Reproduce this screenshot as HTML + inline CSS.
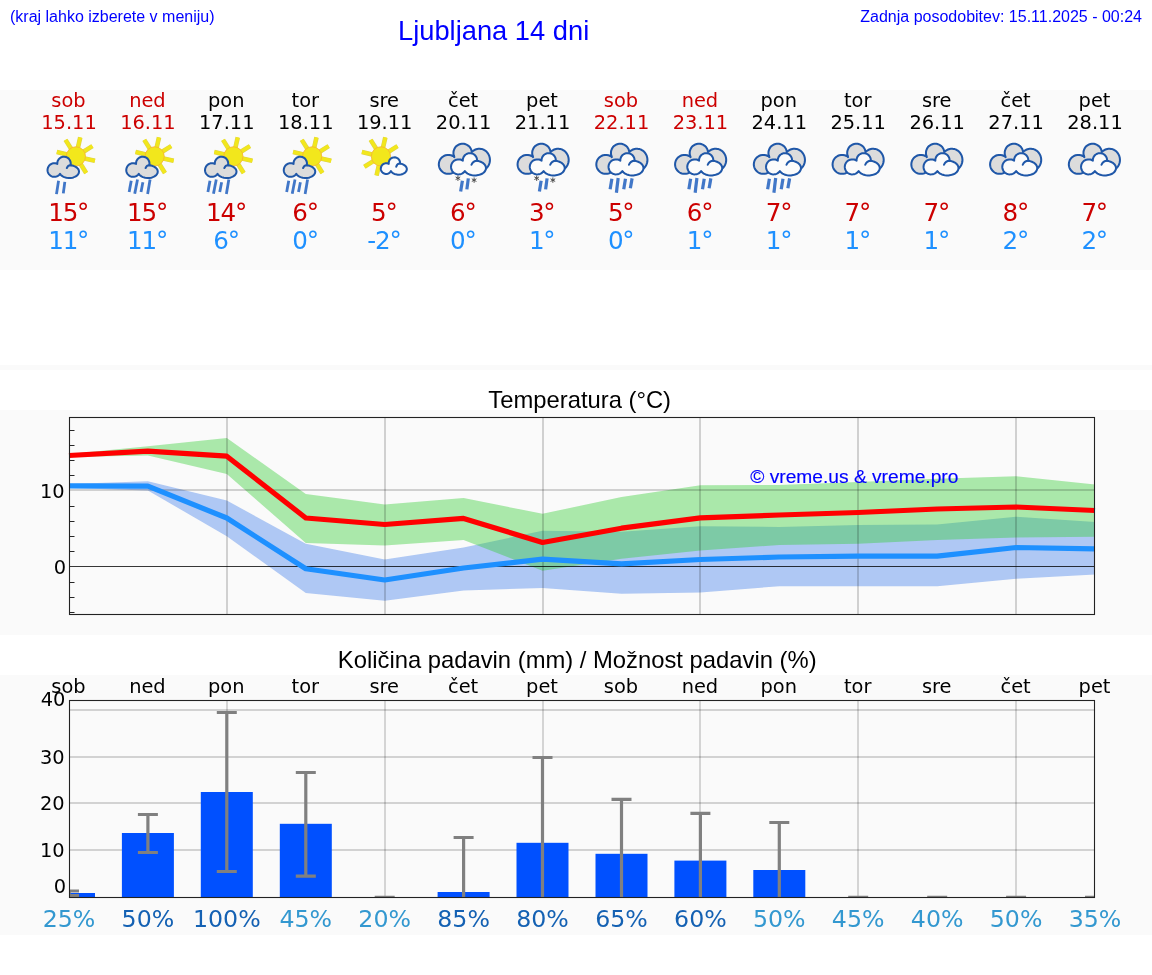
<!DOCTYPE html>
<html lang="sl"><head><meta charset="utf-8"><title>Ljubljana 14 dni</title>
<style>
html,body{margin:0;padding:0;background:#fff}
body{width:1152px;height:975px;position:relative;overflow:hidden;font-family:"Liberation Sans",Arial,sans-serif;color:#000}
.abs{position:absolute;white-space:nowrap}
.hdr{color:#0000ff;font-size:16px;line-height:18px}
.title{color:#0000ff;font-size:27.3px;line-height:30px}
.band{position:absolute;left:0;width:1152px;background:#fafafa}
.dv{font-family:"DejaVu Sans","Liberation Sans",sans-serif}
.col{position:absolute;width:80px;text-align:center;white-space:nowrap}
.day{font-size:19.4px;line-height:22px}
.hi{font-size:24.6px;line-height:28px;letter-spacing:-1.2px;color:#cc0000}
.lo{font-size:24.6px;line-height:28px;letter-spacing:-1.2px;color:#1e90ff}
.we{color:#cc0000}
.ctitle{font-size:23.8px;line-height:26px;color:#000}
svg{position:absolute;left:0;top:0;overflow:visible}
svg text{font-family:"DejaVu Sans","Liberation Sans",sans-serif}

</style></head><body>
<div class="abs hdr" style="left:10px;top:8px">(kraj lahko izberete v meniju)</div>
<div class="abs title" style="left:398px;top:15.5px">Ljubljana 14 dni</div>
<div class="abs hdr" style="right:10px;top:8px">Zadnja posodobitev: 15.11.2025 - 00:24</div>
<div class="band" style="top:90px;height:180px"></div>
<div class="band" style="top:365px;height:5px"></div>
<div class="band" style="top:410px;height:225px"></div>
<div class="band" style="top:675px;height:260px"></div>
<div class="col dv day we" style="left:28.5px;top:90px">sob</div>
<div class="col dv day we" style="left:29.0px;top:112px">15.11</div>
<div class="col dv hi" style="left:28.2px;top:198.6px">15°</div>
<div class="col dv lo" style="left:28.2px;top:227.4px">11°</div>
<div class="col dv day we" style="left:107.4px;top:90px">ned</div>
<div class="col dv day we" style="left:107.9px;top:112px">16.11</div>
<div class="col dv hi" style="left:107.1px;top:198.6px">15°</div>
<div class="col dv lo" style="left:107.1px;top:227.4px">11°</div>
<div class="col dv day" style="left:186.3px;top:90px">pon</div>
<div class="col dv day" style="left:186.8px;top:112px">17.11</div>
<div class="col dv hi" style="left:186.0px;top:198.6px">14°</div>
<div class="col dv lo" style="left:186.0px;top:227.4px">6°</div>
<div class="col dv day" style="left:265.3px;top:90px">tor</div>
<div class="col dv day" style="left:265.8px;top:112px">18.11</div>
<div class="col dv hi" style="left:265.0px;top:198.6px">6°</div>
<div class="col dv lo" style="left:265.0px;top:227.4px">0°</div>
<div class="col dv day" style="left:344.2px;top:90px">sre</div>
<div class="col dv day" style="left:344.7px;top:112px">19.11</div>
<div class="col dv hi" style="left:343.9px;top:198.6px">5°</div>
<div class="col dv lo" style="left:343.9px;top:227.4px">-2°</div>
<div class="col dv day" style="left:423.1px;top:90px">čet</div>
<div class="col dv day" style="left:423.6px;top:112px">20.11</div>
<div class="col dv hi" style="left:422.8px;top:198.6px">6°</div>
<div class="col dv lo" style="left:422.8px;top:227.4px">0°</div>
<div class="col dv day" style="left:502.0px;top:90px">pet</div>
<div class="col dv day" style="left:502.5px;top:112px">21.11</div>
<div class="col dv hi" style="left:501.7px;top:198.6px">3°</div>
<div class="col dv lo" style="left:501.7px;top:227.4px">1°</div>
<div class="col dv day we" style="left:581.0px;top:90px">sob</div>
<div class="col dv day we" style="left:581.5px;top:112px">22.11</div>
<div class="col dv hi" style="left:580.7px;top:198.6px">5°</div>
<div class="col dv lo" style="left:580.7px;top:227.4px">0°</div>
<div class="col dv day we" style="left:659.9px;top:90px">ned</div>
<div class="col dv day we" style="left:660.4px;top:112px">23.11</div>
<div class="col dv hi" style="left:659.6px;top:198.6px">6°</div>
<div class="col dv lo" style="left:659.6px;top:227.4px">1°</div>
<div class="col dv day" style="left:738.8px;top:90px">pon</div>
<div class="col dv day" style="left:739.3px;top:112px">24.11</div>
<div class="col dv hi" style="left:738.5px;top:198.6px">7°</div>
<div class="col dv lo" style="left:738.5px;top:227.4px">1°</div>
<div class="col dv day" style="left:817.7px;top:90px">tor</div>
<div class="col dv day" style="left:818.2px;top:112px">25.11</div>
<div class="col dv hi" style="left:817.4px;top:198.6px">7°</div>
<div class="col dv lo" style="left:817.4px;top:227.4px">1°</div>
<div class="col dv day" style="left:896.7px;top:90px">sre</div>
<div class="col dv day" style="left:897.2px;top:112px">26.11</div>
<div class="col dv hi" style="left:896.4px;top:198.6px">7°</div>
<div class="col dv lo" style="left:896.4px;top:227.4px">1°</div>
<div class="col dv day" style="left:975.6px;top:90px">čet</div>
<div class="col dv day" style="left:976.1px;top:112px">27.11</div>
<div class="col dv hi" style="left:975.3px;top:198.6px">8°</div>
<div class="col dv lo" style="left:975.3px;top:227.4px">2°</div>
<div class="col dv day" style="left:1054.5px;top:90px">pet</div>
<div class="col dv day" style="left:1055.0px;top:112px">28.11</div>
<div class="col dv hi" style="left:1054.2px;top:198.6px">7°</div>
<div class="col dv lo" style="left:1054.2px;top:227.4px">2°</div>
<div class="abs ctitle" style="left:488.3px;top:387px">Temperatura (°C)</div>
<div class="abs ctitle" style="left:337.8px;top:647px">Količina padavin (mm) / Možnost padavin (%)</div>
<svg width="1152" height="975" viewBox="0 0 1152 975">
<defs>
<g id="sc_r2" transform="translate(3.0,0) scale(0.06977)"><g stroke="#dcd24a" stroke-width="66"><line x1="695" y1="379" x2="843" y2="413"/><line x1="679" y1="282" x2="807" y2="202"/><line x1="599" y1="225" x2="633" y2="77"/><line x1="502" y1="241" x2="422" y2="113"/><line x1="445" y1="321" x2="297" y2="287"/><line x1="638" y1="459" x2="718" y2="587"/></g><g stroke="#f2e71c" stroke-width="50"><line x1="695" y1="379" x2="843" y2="413"/><line x1="679" y1="282" x2="807" y2="202"/><line x1="599" y1="225" x2="633" y2="77"/><line x1="502" y1="241" x2="422" y2="113"/><line x1="445" y1="321" x2="297" y2="287"/><line x1="638" y1="459" x2="718" y2="587"/></g><circle cx="570" cy="350" r="138" fill="#f2e71c" stroke="#f5b233" stroke-width="12"/><path d="M496 445L492 422L482 401L468 382L449 368L428 358L405 354L381 356L363 361L351 368L339 376L326 389L318 401L311 413L307 427L304 441L304 457L290 451L276 448L262 447L243 449L229 453L216 459L200 469L189 479L181 491L176 499L170 512L166 526L164 540L164 555L167 569L171 583L178 595L186 607L193 614L204 624L212 629L224 636L238 640L248 642L262 643L276 642L290 639L300 636L312 629L324 621L335 611L343 599L352 611L359 619L367 626L381 636L403 647L434 656L468 660L496 659L522 655L535 651L553 644L569 636L583 626L595 615L604 603L611 590L614 577L615 563L612 550L607 537L598 525L583 510L569 500L553 492L535 485L516 480L492 477L496 459Z" fill="#dcdcdc" stroke="#1f57a8" stroke-width="29" stroke-linejoin="round"/><path d="M500 478C478 476 450 492 440 517" fill="none" stroke="#1f57a8" stroke-width="29" stroke-linecap="round"/><g stroke="#4177c8" stroke-width="40"><line x1="322" y1="700" x2="292" y2="890"/><line x1="412" y1="715" x2="390" y2="880"/></g></g>
<g id="sc_r4" transform="translate(3.0,0) scale(0.06977)"><g stroke="#dcd24a" stroke-width="66"><line x1="695" y1="379" x2="843" y2="413"/><line x1="679" y1="282" x2="807" y2="202"/><line x1="599" y1="225" x2="633" y2="77"/><line x1="502" y1="241" x2="422" y2="113"/><line x1="445" y1="321" x2="297" y2="287"/><line x1="638" y1="459" x2="718" y2="587"/></g><g stroke="#f2e71c" stroke-width="50"><line x1="695" y1="379" x2="843" y2="413"/><line x1="679" y1="282" x2="807" y2="202"/><line x1="599" y1="225" x2="633" y2="77"/><line x1="502" y1="241" x2="422" y2="113"/><line x1="445" y1="321" x2="297" y2="287"/><line x1="638" y1="459" x2="718" y2="587"/></g><circle cx="570" cy="350" r="138" fill="#f2e71c" stroke="#f5b233" stroke-width="12"/><path d="M496 445L492 422L482 401L468 382L449 368L428 358L405 354L381 356L363 361L351 368L339 376L326 389L318 401L311 413L307 427L304 441L304 457L290 451L276 448L262 447L243 449L229 453L216 459L200 469L189 479L181 491L176 499L170 512L166 526L164 540L164 555L167 569L171 583L178 595L186 607L193 614L204 624L212 629L224 636L238 640L248 642L262 643L276 642L290 639L300 636L312 629L324 621L335 611L343 599L352 611L359 619L367 626L381 636L403 647L434 656L468 660L496 659L522 655L535 651L553 644L569 636L583 626L595 615L604 603L611 590L614 577L615 563L612 550L607 537L598 525L583 510L569 500L553 492L535 485L516 480L492 477L496 459Z" fill="#dcdcdc" stroke="#1f57a8" stroke-width="29" stroke-linejoin="round"/><path d="M500 478C478 476 450 492 440 517" fill="none" stroke="#1f57a8" stroke-width="29" stroke-linecap="round"/><g stroke="#4177c8" stroke-width="40"><line x1="235" y1="700" x2="205" y2="860"/><line x1="325" y1="680" x2="285" y2="885"/><line x1="402" y1="720" x2="375" y2="860"/><line x1="505" y1="680" x2="470" y2="890"/></g></g>
<g id="sun_c" transform="translate(3.3,0) scale(0.06977)"><g stroke="#dcd24a" stroke-width="66"><line x1="524" y1="282" x2="652" y2="202"/><line x1="444" y1="225" x2="478" y2="77"/><line x1="347" y1="241" x2="267" y2="113"/><line x1="290" y1="321" x2="142" y2="287"/><line x1="306" y1="418" x2="178" y2="498"/><line x1="386" y1="475" x2="352" y2="623"/></g><g stroke="#f2e71c" stroke-width="50"><line x1="524" y1="282" x2="652" y2="202"/><line x1="444" y1="225" x2="478" y2="77"/><line x1="347" y1="241" x2="267" y2="113"/><line x1="290" y1="321" x2="142" y2="287"/><line x1="306" y1="418" x2="178" y2="498"/><line x1="386" y1="475" x2="352" y2="623"/></g><circle cx="415" cy="350" r="138" fill="#f2e71c" stroke="#f5b233" stroke-width="12"/><path d="M690 441L686 421L680 406L669 390L654 377L636 368L616 363L596 364L577 369L562 377L553 384L542 396L536 406L530 421L527 433L526 445L527 457L516 453L501 449L486 448L475 449L464 453L450 459L438 468L430 476L424 485L419 496L414 514L413 525L414 536L419 554L428 571L436 579L444 587L461 596L479 601L490 602L501 601L512 599L526 593L536 587L544 579L552 571L558 561L570 576L585 589L607 601L628 607L656 612L680 612L702 609L729 601L743 594L755 586L766 576L775 566L781 555L785 544L786 532L785 520L781 509L775 498L769 491L759 481L743 470L729 463L708 457L690 453Z" fill="#fbfbfb" stroke="#1f57a8" stroke-width="29" stroke-linejoin="round"/><path d="M690 453C668 452 642 468 634 497" fill="none" stroke="#1f57a8" stroke-width="29" stroke-linecap="round"/></g>
<g id="cl" transform="translate(0.45,0) scale(0.06977)"><path d="M626 288L623 268L617 249L611 238L601 221L593 211L579 198L563 187L551 181L527 172L514 169L495 168L482 169L463 172L444 178L433 184L411 198L393 216L379 238L369 262L364 287L364 313L369 338L377 360L366 351L354 344L329 334L303 329L277 329L251 334L226 344L204 359L189 373L181 383L170 400L162 418L157 437L155 451L154 471L157 491L162 510L170 528L181 545L194 560L209 573L220 581L232 587L251 594L270 599L290 600L310 599L329 594L342 590L360 581L371 573L386 560L399 545L410 529L424 543L438 553L454 561L471 566L488 569L506 570L523 568L540 563L562 553L576 543L585 535L600 517L606 507L612 494L622 507L633 519L644 529L657 537L670 545L684 551L698 555L713 558L728 560L750 559L765 557L779 553L793 548L807 541L819 533L831 524L842 513L852 502L861 489L869 475L875 461L880 446L884 431L886 416L887 400L885 377L882 361L878 346L872 332L865 318L857 305L848 293L837 281L826 271L813 263L800 255L786 249L772 245L757 242L742 240L720 241L705 243L691 247L670 255L657 263L639 276Z" fill="#dcdcdc" stroke="#1f57a8" stroke-width="29" stroke-linejoin="round"/><path d="M702 400L700 385L698 375L690 357L685 348L676 337L665 326L657 320L639 311L630 307L615 304L600 303L590 303L575 306L566 309L552 315L535 326L524 337L515 348L506 366L501 380L498 395L498 411L483 402L463 395L448 393L426 393L406 397L391 402L377 410L361 424L350 436L342 449L335 464L331 479L329 495L330 511L331 521L335 536L342 551L350 564L357 573L368 583L377 590L391 598L406 603L416 606L432 608L448 607L463 605L478 600L493 593L506 583L517 573L527 559L536 571L545 580L566 596L591 608L619 617L634 620L657 622L687 622L718 618L746 610L766 602L784 592L799 580L815 562L823 548L828 533L830 517L828 501L823 486L815 472L808 463L794 450L778 438L753 426L725 417L702 413Z" fill="#fbfbfb" stroke="#1f57a8" stroke-width="29" stroke-linejoin="round"/><path d="M705 411C675 412 635 432 622 470" fill="none" stroke="#1f57a8" stroke-width="29" stroke-linecap="round"/></g>
<g id="cl_r4" transform="translate(0.45,0) scale(0.06977)"><path d="M626 288L623 268L617 249L611 238L601 221L593 211L579 198L563 187L551 181L527 172L514 169L495 168L482 169L463 172L444 178L433 184L411 198L393 216L379 238L369 262L364 287L364 313L369 338L377 360L366 351L354 344L329 334L303 329L277 329L251 334L226 344L204 359L189 373L181 383L170 400L162 418L157 437L155 451L154 471L157 491L162 510L170 528L181 545L194 560L209 573L220 581L232 587L251 594L270 599L290 600L310 599L329 594L342 590L360 581L371 573L386 560L399 545L410 529L424 543L438 553L454 561L471 566L488 569L506 570L523 568L540 563L562 553L576 543L585 535L600 517L606 507L612 494L622 507L633 519L644 529L657 537L670 545L684 551L698 555L713 558L728 560L750 559L765 557L779 553L793 548L807 541L819 533L831 524L842 513L852 502L861 489L869 475L875 461L880 446L884 431L886 416L887 400L885 377L882 361L878 346L872 332L865 318L857 305L848 293L837 281L826 271L813 263L800 255L786 249L772 245L757 242L742 240L720 241L705 243L691 247L670 255L657 263L639 276Z" fill="#dcdcdc" stroke="#1f57a8" stroke-width="29" stroke-linejoin="round"/><path d="M702 400L700 385L698 375L690 357L685 348L676 337L665 326L657 320L639 311L630 307L615 304L600 303L590 303L575 306L566 309L552 315L535 326L524 337L515 348L506 366L501 380L498 395L498 411L483 402L463 395L448 393L426 393L406 397L391 402L377 410L361 424L350 436L342 449L335 464L331 479L329 495L330 511L331 521L335 536L342 551L350 564L357 573L368 583L377 590L391 598L406 603L416 606L432 608L448 607L463 605L478 600L493 593L506 583L517 573L527 559L536 571L545 580L566 596L591 608L619 617L634 620L657 622L687 622L718 618L746 610L766 602L784 592L799 580L815 562L823 548L828 533L830 517L828 501L823 486L815 472L808 463L794 450L778 438L753 426L725 417L702 413Z" fill="#fbfbfb" stroke="#1f57a8" stroke-width="29" stroke-linejoin="round"/><path d="M705 411C675 412 635 432 622 470" fill="none" stroke="#1f57a8" stroke-width="29" stroke-linecap="round"/><g stroke="#4177c8" stroke-width="46"><line x1="377" y1="670" x2="352" y2="820"/><line x1="467" y1="660" x2="442" y2="870"/><line x1="572" y1="670" x2="547" y2="820"/><line x1="667" y1="665" x2="642" y2="805"/></g></g>
<g id="cl_sleet" transform="translate(0.45,0) scale(0.06977)"><path d="M626 288L623 268L617 249L611 238L601 221L593 211L579 198L563 187L551 181L527 172L514 169L495 168L482 169L463 172L444 178L433 184L411 198L393 216L379 238L369 262L364 287L364 313L369 338L377 360L366 351L354 344L329 334L303 329L277 329L251 334L226 344L204 359L189 373L181 383L170 400L162 418L157 437L155 451L154 471L157 491L162 510L170 528L181 545L194 560L209 573L220 581L232 587L251 594L270 599L290 600L310 599L329 594L342 590L360 581L371 573L386 560L399 545L410 529L424 543L438 553L454 561L471 566L488 569L506 570L523 568L540 563L562 553L576 543L585 535L600 517L606 507L612 494L622 507L633 519L644 529L657 537L670 545L684 551L698 555L713 558L728 560L750 559L765 557L779 553L793 548L807 541L819 533L831 524L842 513L852 502L861 489L869 475L875 461L880 446L884 431L886 416L887 400L885 377L882 361L878 346L872 332L865 318L857 305L848 293L837 281L826 271L813 263L800 255L786 249L772 245L757 242L742 240L720 241L705 243L691 247L670 255L657 263L639 276Z" fill="#dcdcdc" stroke="#1f57a8" stroke-width="29" stroke-linejoin="round"/><path d="M702 400L700 385L698 375L690 357L685 348L676 337L665 326L657 320L639 311L630 307L615 304L600 303L590 303L575 306L566 309L552 315L535 326L524 337L515 348L506 366L501 380L498 395L498 411L483 402L463 395L448 393L426 393L406 397L391 402L377 410L361 424L350 436L342 449L335 464L331 479L329 495L330 511L331 521L335 536L342 551L350 564L357 573L368 583L377 590L391 598L406 603L416 606L432 608L448 607L463 605L478 600L493 593L506 583L517 573L527 559L536 571L545 580L566 596L591 608L619 617L634 620L657 622L687 622L718 618L746 610L766 602L784 592L799 580L815 562L823 548L828 533L830 517L828 501L823 486L815 472L808 463L794 450L778 438L753 426L725 417L702 413Z" fill="#fbfbfb" stroke="#1f57a8" stroke-width="29" stroke-linejoin="round"/><path d="M705 411C675 412 635 432 622 470" fill="none" stroke="#1f57a8" stroke-width="29" stroke-linecap="round"/><g stroke="#4177c8" stroke-width="46"><line x1="492" y1="700" x2="467" y2="852"/><line x1="577" y1="665" x2="556" y2="822"/></g><g stroke="#4a4a4a" stroke-width="14"><line x1="428" y1="625" x2="428" y2="701"/><line x1="395" y1="644" x2="461" y2="682"/><line x1="395" y1="682" x2="461" y2="644"/></g><g stroke="#4a4a4a" stroke-width="14"><line x1="660" y1="652" x2="660" y2="728"/><line x1="627" y1="671" x2="693" y2="709"/><line x1="627" y1="709" x2="693" y2="671"/></g></g>
</defs>
<use href="#sc_r2" x="33.09" y="132"/>
<use href="#sc_r4" x="111.84" y="132"/>
<use href="#sc_r4" x="190.59" y="132"/>
<use href="#sc_r4" x="269.34" y="132"/>
<use href="#sun_c" x="348.69" y="132"/>
<use href="#cl_sleet" x="427.62" y="132"/>
<use href="#cl_sleet" x="506.37" y="132"/>
<use href="#cl_r4" x="585.12" y="132"/>
<use href="#cl_r4" x="663.87" y="132"/>
<use href="#cl_r4" x="742.63" y="132"/>
<use href="#cl" x="821.38" y="132"/>
<use href="#cl" x="900.13" y="132"/>
<use href="#cl" x="978.89" y="132"/>
<use href="#cl" x="1057.64" y="132"/>
<g id="tempchart">
<polygon points="69.0,484.0 147.9,481.2 226.8,500.5 305.8,543.8 384.7,559.5 463.6,547.5 542.5,530.8 621.5,531.8 700.4,526.2 779.3,527.0 858.2,525.0 937.2,524.4 1016.1,516.8 1095.0,522.0 1095.0,574.5 1016.1,578.8 937.2,586.2 858.2,586.2 779.3,586.2 700.4,592.5 621.5,593.8 542.5,588.0 463.6,590.5 384.7,600.8 305.8,593.0 226.8,536.2 147.9,490.5 69.0,488.0" fill="#6495ed" fill-opacity="0.5"/>
<polygon points="69.0,454.0 147.9,446.2 226.8,438.0 305.8,494.0 384.7,504.5 463.6,498.0 542.5,513.8 621.5,497.0 700.4,485.3 779.3,485.0 858.2,482.0 937.2,478.8 1016.1,476.2 1095.0,484.5 1095.0,536.8 1016.1,537.5 937.2,540.0 858.2,543.8 779.3,545.0 700.4,550.5 621.5,558.8 542.5,570.8 463.6,540.0 384.7,545.5 305.8,543.0 226.8,474.0 147.9,455.5 69.0,457.0" fill="#32cd32" fill-opacity="0.4"/>
<line x1="227" y1="417.5" x2="227" y2="614.5" stroke="#000" stroke-opacity="0.165" stroke-width="2"/>
<line x1="385" y1="417.5" x2="385" y2="614.5" stroke="#000" stroke-opacity="0.165" stroke-width="2"/>
<line x1="543" y1="417.5" x2="543" y2="614.5" stroke="#000" stroke-opacity="0.165" stroke-width="2"/>
<line x1="700" y1="417.5" x2="700" y2="614.5" stroke="#000" stroke-opacity="0.165" stroke-width="2"/>
<line x1="858" y1="417.5" x2="858" y2="614.5" stroke="#000" stroke-opacity="0.165" stroke-width="2"/>
<line x1="1016" y1="417.5" x2="1016" y2="614.5" stroke="#000" stroke-opacity="0.165" stroke-width="2"/>
<line x1="69.0" y1="490" x2="1095.0" y2="490" stroke="#000" stroke-opacity="0.165" stroke-width="2"/>
<line x1="69.0" y1="566.5" x2="1095.0" y2="566.5" stroke="#000" stroke-opacity="0.78" stroke-width="1"/>
<polyline points="69.0,455.5 147.9,451.2 226.8,456.2 305.8,518.0 384.7,524.5 463.6,518.4 542.5,542.5 621.5,528.2 700.4,517.8 779.3,515.0 858.2,512.5 937.2,509.0 1016.1,507.0 1095.0,510.5" fill="none" stroke="#ff0000" stroke-width="5.2" stroke-linejoin="round"/>
<polyline points="69.0,485.8 147.9,486.2 226.8,518.0 305.8,568.8 384.7,580.0 463.6,568.0 542.5,559.2 621.5,563.8 700.4,559.5 779.3,557.0 858.2,556.2 937.2,556.2 1016.1,547.5 1095.0,548.8" fill="none" stroke="#1e90ff" stroke-width="5.2" stroke-linejoin="round"/>
<line x1="69.0" y1="612.50" x2="74.5" y2="612.50" stroke="#000" stroke-width="1" stroke-opacity="0.85"/>
<line x1="69.0" y1="597.50" x2="74.5" y2="597.50" stroke="#000" stroke-width="1" stroke-opacity="0.85"/>
<line x1="69.0" y1="582.50" x2="74.5" y2="582.50" stroke="#000" stroke-width="1" stroke-opacity="0.85"/>
<line x1="69.0" y1="551.50" x2="74.5" y2="551.50" stroke="#000" stroke-width="1" stroke-opacity="0.85"/>
<line x1="69.0" y1="536.50" x2="74.5" y2="536.50" stroke="#000" stroke-width="1" stroke-opacity="0.85"/>
<line x1="69.0" y1="521.50" x2="74.5" y2="521.50" stroke="#000" stroke-width="1" stroke-opacity="0.85"/>
<line x1="69.0" y1="506.50" x2="74.5" y2="506.50" stroke="#000" stroke-width="1" stroke-opacity="0.85"/>
<line x1="69.0" y1="475.50" x2="74.5" y2="475.50" stroke="#000" stroke-width="1" stroke-opacity="0.85"/>
<line x1="69.0" y1="460.50" x2="74.5" y2="460.50" stroke="#000" stroke-width="1" stroke-opacity="0.85"/>
<line x1="69.0" y1="445.50" x2="74.5" y2="445.50" stroke="#000" stroke-width="1" stroke-opacity="0.85"/>
<line x1="69.0" y1="430.50" x2="74.5" y2="430.50" stroke="#000" stroke-width="1" stroke-opacity="0.85"/>
<rect x="69.5" y="417.5" width="1025.0" height="197.0" fill="none" stroke="#222" stroke-width="1.1"/>
<text x="64.7" y="497.9" text-anchor="end" font-size="19.4">10</text>
<text x="66" y="573.8" text-anchor="end" font-size="19.4">0</text>
<text x="750.2" y="482.9" font-size="19.2" fill="#0000ff" stroke="#0000ff" stroke-width="0.15" style="font-family:'Liberation Sans',Arial,sans-serif">© vreme.us &amp; vreme.pro</text>
</g>
<g id="precchart">
<line x1="69.0" y1="710" x2="1095.0" y2="710" stroke="#000" stroke-opacity="0.155" stroke-width="2"/>
<line x1="69.0" y1="757" x2="1095.0" y2="757" stroke="#000" stroke-opacity="0.155" stroke-width="2"/>
<line x1="69.0" y1="803" x2="1095.0" y2="803" stroke="#000" stroke-opacity="0.155" stroke-width="2"/>
<line x1="69.0" y1="850" x2="1095.0" y2="850" stroke="#000" stroke-opacity="0.155" stroke-width="2"/>
<line x1="227" y1="700.5" x2="227" y2="897.5" stroke="#000" stroke-opacity="0.15" stroke-width="2"/>
<line x1="385" y1="700.5" x2="385" y2="897.5" stroke="#000" stroke-opacity="0.15" stroke-width="2"/>
<line x1="543" y1="700.5" x2="543" y2="897.5" stroke="#000" stroke-opacity="0.15" stroke-width="2"/>
<line x1="700" y1="700.5" x2="700" y2="897.5" stroke="#000" stroke-opacity="0.15" stroke-width="2"/>
<line x1="858" y1="700.5" x2="858" y2="897.5" stroke="#000" stroke-opacity="0.15" stroke-width="2"/>
<line x1="1016" y1="700.5" x2="1016" y2="897.5" stroke="#000" stroke-opacity="0.15" stroke-width="2"/>
<clipPath id="pc"><rect x="69.5" y="700.5" width="1025.5" height="197.0"/></clipPath>
<g clip-path="url(#pc)">
<rect x="43.0" y="893.0" width="52" height="4.5" fill="#0050ff"/>
<rect x="121.9" y="833.0" width="52" height="64.5" fill="#0050ff"/>
<rect x="200.8" y="792.0" width="52" height="105.5" fill="#0050ff"/>
<rect x="279.8" y="823.8" width="52" height="73.8" fill="#0050ff"/>
<rect x="437.6" y="892.0" width="52" height="5.5" fill="#0050ff"/>
<rect x="516.5" y="842.8" width="52" height="54.7" fill="#0050ff"/>
<rect x="595.5" y="853.8" width="52" height="43.8" fill="#0050ff"/>
<rect x="674.4" y="860.6" width="52" height="36.9" fill="#0050ff"/>
<rect x="753.3" y="870.0" width="52" height="27.5" fill="#0050ff"/>
<path d="M69.0 891.0V895.5M59.0 891.0h20M59.0 895.5h20" stroke="#808080" stroke-width="3.2" fill="none"/>
<path d="M147.9 814.5V852.5M137.9 814.5h20M137.9 852.5h20" stroke="#808080" stroke-width="3.2" fill="none"/>
<path d="M226.8 712.5V871.5M216.8 712.5h20M216.8 871.5h20" stroke="#808080" stroke-width="3.2" fill="none"/>
<path d="M305.8 772.5V876.2M295.8 772.5h20M295.8 876.2h20" stroke="#808080" stroke-width="3.2" fill="none"/>
<path d="M384.7 897.4V897.4M374.7 897.4h20M374.7 897.4h20" stroke="#808080" stroke-width="3.2" fill="none"/>
<path d="M463.6 837.5V950.0M453.6 837.5h20M453.6 950.0h20" stroke="#808080" stroke-width="3.2" fill="none"/>
<path d="M542.5 757.5V950.0M532.5 757.5h20M532.5 950.0h20" stroke="#808080" stroke-width="3.2" fill="none"/>
<path d="M621.5 799.4V950.0M611.5 799.4h20M611.5 950.0h20" stroke="#808080" stroke-width="3.2" fill="none"/>
<path d="M700.4 813.4V950.0M690.4 813.4h20M690.4 950.0h20" stroke="#808080" stroke-width="3.2" fill="none"/>
<path d="M779.3 822.5V950.0M769.3 822.5h20M769.3 950.0h20" stroke="#808080" stroke-width="3.2" fill="none"/>
<path d="M858.2 897.4V897.4M848.2 897.4h20M848.2 897.4h20" stroke="#808080" stroke-width="3.2" fill="none"/>
<path d="M937.2 897.4V897.4M927.2 897.4h20M927.2 897.4h20" stroke="#808080" stroke-width="3.2" fill="none"/>
<path d="M1016.1 897.4V897.4M1006.1 897.4h20M1006.1 897.4h20" stroke="#808080" stroke-width="3.2" fill="none"/>
<path d="M1095.0 897.4V897.4M1085.0 897.4h20M1085.0 897.4h20" stroke="#808080" stroke-width="3.2" fill="none"/>
</g>
<rect x="69.5" y="700.5" width="1025.0" height="197.0" fill="none" stroke="#222" stroke-width="1.1"/>
<text x="65.4" y="705.9" text-anchor="end" font-size="19.4">40</text>
<text x="64.7" y="763.9" text-anchor="end" font-size="19.4">30</text>
<text x="64.7" y="809.9" text-anchor="end" font-size="19.4">20</text>
<text x="64.7" y="856.9" text-anchor="end" font-size="19.4">10</text>
<text x="66" y="892.8" text-anchor="end" font-size="19.4">0</text>
<text x="68.5" y="692.7" text-anchor="middle" font-size="19.4">sob</text>
<text x="69.0" y="926.8" text-anchor="middle" font-size="23.7" fill="#3398d0">25%</text>
<text x="147.4" y="692.7" text-anchor="middle" font-size="19.4">ned</text>
<text x="147.9" y="926.8" text-anchor="middle" font-size="23.7" fill="#1461b3">50%</text>
<text x="226.3" y="692.7" text-anchor="middle" font-size="19.4">pon</text>
<text x="226.8" y="926.8" text-anchor="middle" font-size="23.7" fill="#1461b3">100%</text>
<text x="305.3" y="692.7" text-anchor="middle" font-size="19.4">tor</text>
<text x="305.8" y="926.8" text-anchor="middle" font-size="23.7" fill="#3398d0">45%</text>
<text x="384.2" y="692.7" text-anchor="middle" font-size="19.4">sre</text>
<text x="384.7" y="926.8" text-anchor="middle" font-size="23.7" fill="#3398d0">20%</text>
<text x="463.1" y="692.7" text-anchor="middle" font-size="19.4">čet</text>
<text x="463.6" y="926.8" text-anchor="middle" font-size="23.7" fill="#1461b3">85%</text>
<text x="542.0" y="692.7" text-anchor="middle" font-size="19.4">pet</text>
<text x="542.5" y="926.8" text-anchor="middle" font-size="23.7" fill="#1461b3">80%</text>
<text x="621.0" y="692.7" text-anchor="middle" font-size="19.4">sob</text>
<text x="621.5" y="926.8" text-anchor="middle" font-size="23.7" fill="#1461b3">65%</text>
<text x="699.9" y="692.7" text-anchor="middle" font-size="19.4">ned</text>
<text x="700.4" y="926.8" text-anchor="middle" font-size="23.7" fill="#1461b3">60%</text>
<text x="778.8" y="692.7" text-anchor="middle" font-size="19.4">pon</text>
<text x="779.3" y="926.8" text-anchor="middle" font-size="23.7" fill="#3398d0">50%</text>
<text x="857.7" y="692.7" text-anchor="middle" font-size="19.4">tor</text>
<text x="858.2" y="926.8" text-anchor="middle" font-size="23.7" fill="#3398d0">45%</text>
<text x="936.7" y="692.7" text-anchor="middle" font-size="19.4">sre</text>
<text x="937.2" y="926.8" text-anchor="middle" font-size="23.7" fill="#3398d0">40%</text>
<text x="1015.6" y="692.7" text-anchor="middle" font-size="19.4">čet</text>
<text x="1016.1" y="926.8" text-anchor="middle" font-size="23.7" fill="#3398d0">50%</text>
<text x="1094.5" y="692.7" text-anchor="middle" font-size="19.4">pet</text>
<text x="1095.0" y="926.8" text-anchor="middle" font-size="23.7" fill="#3398d0">35%</text>
</g>
</svg>
</body></html>
